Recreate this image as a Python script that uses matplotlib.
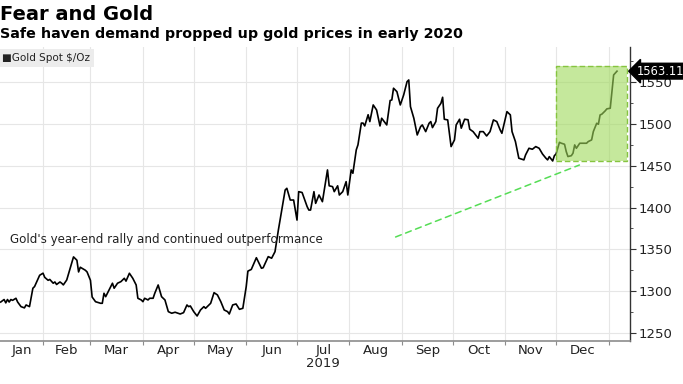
import matplotlib
matplotlib.use("Agg")
import matplotlib.pyplot as plt
import matplotlib.dates as mdates
import matplotlib.patches as mpatches
import pandas as pd
import numpy as np

plt.rcParams['font.family'] = ['DejaVu Sans']

dates = [
    "2019-01-07","2019-01-09","2019-01-10","2019-01-11","2019-01-12","2019-01-13","2019-01-14","2019-01-16",
    "2019-01-17","2019-01-19","2019-01-21","2019-01-22","2019-01-24","2019-01-26","2019-01-27","2019-01-30",
    "2019-02-01","2019-02-02","2019-02-04","2019-02-05","2019-02-07","2019-02-08","2019-02-09","2019-02-11",
    "2019-02-12","2019-02-13","2019-02-15","2019-02-17","2019-02-19","2019-02-21","2019-02-22","2019-02-23",
    "2019-02-26","2019-02-27","2019-03-01","2019-03-02","2019-03-04","2019-03-07","2019-03-08","2019-03-09",
    "2019-03-10","2019-03-12","2019-03-14","2019-03-15","2019-03-17","2019-03-19","2019-03-21","2019-03-22",
    "2019-03-24","2019-03-26","2019-03-28","2019-03-29","2019-03-31","2019-04-01","2019-04-02","2019-04-04",
    "2019-04-05","2019-04-07","2019-04-08","2019-04-10","2019-04-12","2019-04-14","2019-04-16","2019-04-18",
    "2019-04-20","2019-04-23","2019-04-25","2019-04-27","2019-04-28","2019-04-29","2019-05-01","2019-05-03",
    "2019-05-05","2019-05-07","2019-05-08","2019-05-11","2019-05-13","2019-05-15","2019-05-17","2019-05-19",
    "2019-05-21","2019-05-22","2019-05-24","2019-05-26","2019-05-28","2019-05-30","2019-06-01","2019-06-02",
    "2019-06-04","2019-06-07","2019-06-10","2019-06-11","2019-06-14","2019-06-16","2019-06-18","2019-06-20",
    "2019-06-22","2019-06-24","2019-06-25","2019-06-27","2019-06-29","2019-07-01","2019-07-02","2019-07-04",
    "2019-07-07","2019-07-08","2019-07-09","2019-07-11","2019-07-12","2019-07-14","2019-07-16","2019-07-19",
    "2019-07-20","2019-07-22","2019-07-23","2019-07-25","2019-07-26","2019-07-28","2019-07-30","2019-07-31",
    "2019-08-02","2019-08-03","2019-08-05","2019-08-06","2019-08-08","2019-08-09","2019-08-10","2019-08-12",
    "2019-08-13","2019-08-15","2019-08-17","2019-08-19","2019-08-20","2019-08-23","2019-08-25","2019-08-26",
    "2019-08-27","2019-08-29","2019-08-31","2019-09-02","2019-09-04","2019-09-05","2019-09-06","2019-09-08",
    "2019-09-10","2019-09-12","2019-09-13","2019-09-15","2019-09-17","2019-09-18","2019-09-19","2019-09-21",
    "2019-09-22","2019-09-24","2019-09-25","2019-09-26","2019-09-28","2019-09-30","2019-10-02","2019-10-03",
    "2019-10-05","2019-10-06","2019-10-08","2019-10-10","2019-10-11","2019-10-13","2019-10-16","2019-10-17",
    "2019-10-19","2019-10-21","2019-10-23","2019-10-25","2019-10-27","2019-10-29","2019-10-30","2019-11-02",
    "2019-11-04","2019-11-05","2019-11-07","2019-11-08","2019-11-09","2019-11-12","2019-11-13","2019-11-15",
    "2019-11-17","2019-11-19","2019-11-21","2019-11-23","2019-11-25","2019-11-26","2019-11-27","2019-11-29",
    "2019-11-30","2019-12-01","2019-12-02","2019-12-03","2019-12-04","2019-12-06","2019-12-07","2019-12-08",
    "2019-12-10","2019-12-11","2019-12-12","2019-12-13","2019-12-15","2019-12-17","2019-12-19","2019-12-20",
    "2019-12-22","2019-12-23","2019-12-25","2019-12-26","2019-12-27","2019-12-28","2019-12-30","2019-12-31",
    "2020-01-02","2020-01-03","2020-01-04","2020-01-06",
]
prices = [
    1287, 1290, 1286, 1290, 1287, 1290, 1289, 1291.5,
    1287, 1281.5, 1280, 1283.5, 1281.5, 1303.5, 1305.5, 1319,
    1321.5, 1316.5, 1313, 1314, 1309.5, 1311, 1308, 1311,
    1309.5, 1307.5, 1313.4, 1327.4, 1341, 1337, 1323, 1328.6,
    1325, 1323, 1313, 1293, 1287.4, 1285.5, 1285.5, 1297.5,
    1293.4, 1301.4, 1309.5, 1303.5, 1309.5, 1311.4, 1315.4, 1312,
    1321.4, 1315.4, 1307.4, 1291.5, 1289.5, 1287.4, 1291.5, 1289.5,
    1291.5, 1291.5, 1297.5, 1307.4, 1293.4, 1289.5, 1275.5, 1273.6,
    1274.8, 1272.7, 1274.3, 1283.5, 1281.5, 1282.3, 1275.5, 1270.3,
    1277.5, 1281.5, 1279.5, 1285.5, 1298.2, 1295.5, 1287.4, 1277.5,
    1275.5, 1272.7, 1283.5, 1284.7, 1278.3, 1279.5, 1305.4, 1324,
    1326, 1340, 1327.4, 1328, 1341.3, 1339.4, 1347.2, 1373.2,
    1397, 1421, 1423, 1409, 1409, 1385, 1419, 1418,
    1401, 1397, 1397, 1419, 1405, 1415, 1407, 1445,
    1426, 1425, 1419, 1426, 1415, 1419, 1431, 1415,
    1445, 1441, 1469, 1475, 1501, 1501, 1497.6, 1511,
    1502.8, 1522.7, 1516.7, 1497.6, 1506.8, 1498.8, 1528, 1528.7,
    1542.7, 1538.6, 1522.7, 1534.7, 1550.6, 1552.6, 1520.7, 1506.8,
    1486.8, 1496.8, 1498.8, 1490.8, 1500.8, 1502.8, 1495.6, 1502.8,
    1518.7, 1524.7, 1531.9, 1505.6, 1504.8, 1472.9, 1480.9, 1498.8,
    1505.6, 1494.9, 1505.6, 1505, 1493.7, 1490.8, 1482.9, 1490.8,
    1490.8, 1485.6, 1490.8, 1504.8, 1502.8, 1492.8, 1488.8, 1514.7,
    1510.8, 1490.8, 1478.9, 1468.9, 1459, 1457, 1463, 1470.9,
    1469.7, 1472.9, 1470.9, 1464, 1459, 1457, 1460.9, 1455.7,
    1462, 1464, 1471, 1478, 1477, 1475.7, 1467, 1461,
    1462, 1465, 1474.9, 1470.9, 1476.9, 1476.9, 1476.9, 1478.9,
    1480.9, 1490.8, 1500.8, 1499.6, 1510.8, 1511.6, 1515.6, 1518,
    1518.8, 1538.6, 1558.6, 1563.11,
]
month_labels = ["Jan", "Feb", "Mar", "Apr", "May", "Jun", "Jul", "Aug", "Sep", "Oct", "Nov", "Dec"]
y_ticks = [1250, 1300, 1350, 1400, 1450, 1500, 1550]
series_name = "Gold Spot $/Oz"
last_label = "1563.11"
title = "Fear and Gold"
subtitle = "Safe haven demand propped up gold prices in early 2020"
note = "Gold's year-end rally and continued outperformance"
box_start, box_end = "2019-12-01", "2020-01-12"
box_low, box_high = 1456, 1569

x = pd.to_datetime(dates)

fig = plt.figure(figsize=(6.83, 3.84), dpi=100)
ax = fig.add_axes([0.0, 1 - 341/384, 630/683, (341-47)/384])

ax.plot(x, prices, color="black", lw=1.2, zorder=3)

xmin, xmax = pd.Timestamp("2019-01-06 14:00"), pd.Timestamp("2020-01-13 16:00")
ax.set_xlim(xmin, xmax)
ax.set_ylim(1240.4, 1592)

# spines
for s in ["left", "top"]:
    ax.spines[s].set_visible(False)
ax.spines["right"].set_color("#333333")
ax.spines["right"].set_linewidth(1.0)
ax.spines["bottom"].set_color("#8c8c8c")
ax.spines["bottom"].set_linewidth(1.2)

# y axis on right
ax.yaxis.tick_right()
ax.set_yticks(y_ticks)
ax.set_yticks([v + 25 for v in y_ticks], minor=True)
ax.tick_params(axis="y", which="major", length=4, width=0.8, color="#333333",
               labelsize=9.5, pad=2, labelcolor="#222222")
ax.tick_params(axis="y", which="minor", length=2.5, width=0.6, color="#333333")

# x axis: month boundaries (ticks + grid) and labels centred on visible month spans
month_starts = pd.date_range("2019-02-01", "2020-01-01", freq="MS")
ax.set_xticks(month_starts)
ax.set_xticklabels([])
bounds = [xmin] + list(month_starts)
mids = [bounds[i] + (bounds[i + 1] - bounds[i]) / 2 for i in range(12)]
ax.set_xticks(mids, minor=True)
ax.set_xticklabels(month_labels, minor=True)
ax.tick_params(axis="x", which="major", length=3, width=0.8, color="#8c8c8c", direction="out")
ax.tick_params(axis="x", which="minor", length=0, labelsize=9.5, pad=2, labelcolor="#222222")

ax.grid(True, which="major", color="#e6e6e6", lw=0.8, zorder=0)

# year label
ax.text(mids[6], -0.055, "2019", transform=ax.get_xaxis_transform(),
        ha="center", va="top", fontsize=9.5, color="#222222")

# green highlight box
x0 = mdates.date2num(pd.Timestamp(box_start))
x1 = mdates.date2num(pd.Timestamp(box_end))
rect = mpatches.Rectangle((x0, box_low), x1 - x0, box_high - box_low,
                          facecolor="#9fd95a", alpha=0.6, edgecolor="none", zorder=4)
ax.add_patch(rect)
rect_edge = mpatches.Rectangle((x0, box_low), x1 - x0, box_high - box_low,
                               facecolor="none", edgecolor="#86c440", lw=1.0,
                               linestyle=(0, (4, 2)), zorder=5)
ax.add_patch(rect_edge)

# dashed arrow line
ax.annotate("", xy=(582/630, (341-164)/294), xytext=(393/630, (341-238)/294),
            xycoords="axes fraction", textcoords="axes fraction",
            arrowprops=dict(arrowstyle="-", color="#55dd55", lw=1.1,
                            linestyle=(0, (4, 3))), zorder=5)

# note text
ax.text(10/630, (341-240)/294, note, transform=ax.transAxes, fontsize=8.6,
        ha="left", va="center", color="#222222")

# last value tag
ax.annotate(last_label, xy=(1.0, prices[-1]), xycoords=("axes fraction", "data"),
            xytext=(5, 0), textcoords="offset points", ha="left", va="center",
            fontsize=8.3, color="white",
            bbox=dict(boxstyle="larrow,pad=0.12", fc="black", ec="black"),
            annotation_clip=False, zorder=10)

# legend box
fig.text(0.003, 1 - 58/384, "\u25A0" + series_name, fontsize=7.5, ha="left", va="center",
         color="#222222",
         bbox=dict(boxstyle="square,pad=0.35", fc="#ececec", ec="none"))

# titles
fig.text(0.0, 1 - 14/384, title, fontsize=14, fontweight="bold", ha="left", va="center")
fig.text(0.0, 1 - 34/384, subtitle, fontsize=10.3, fontweight="bold", ha="left", va="center")

fig.savefig("out.png", dpi=100)
